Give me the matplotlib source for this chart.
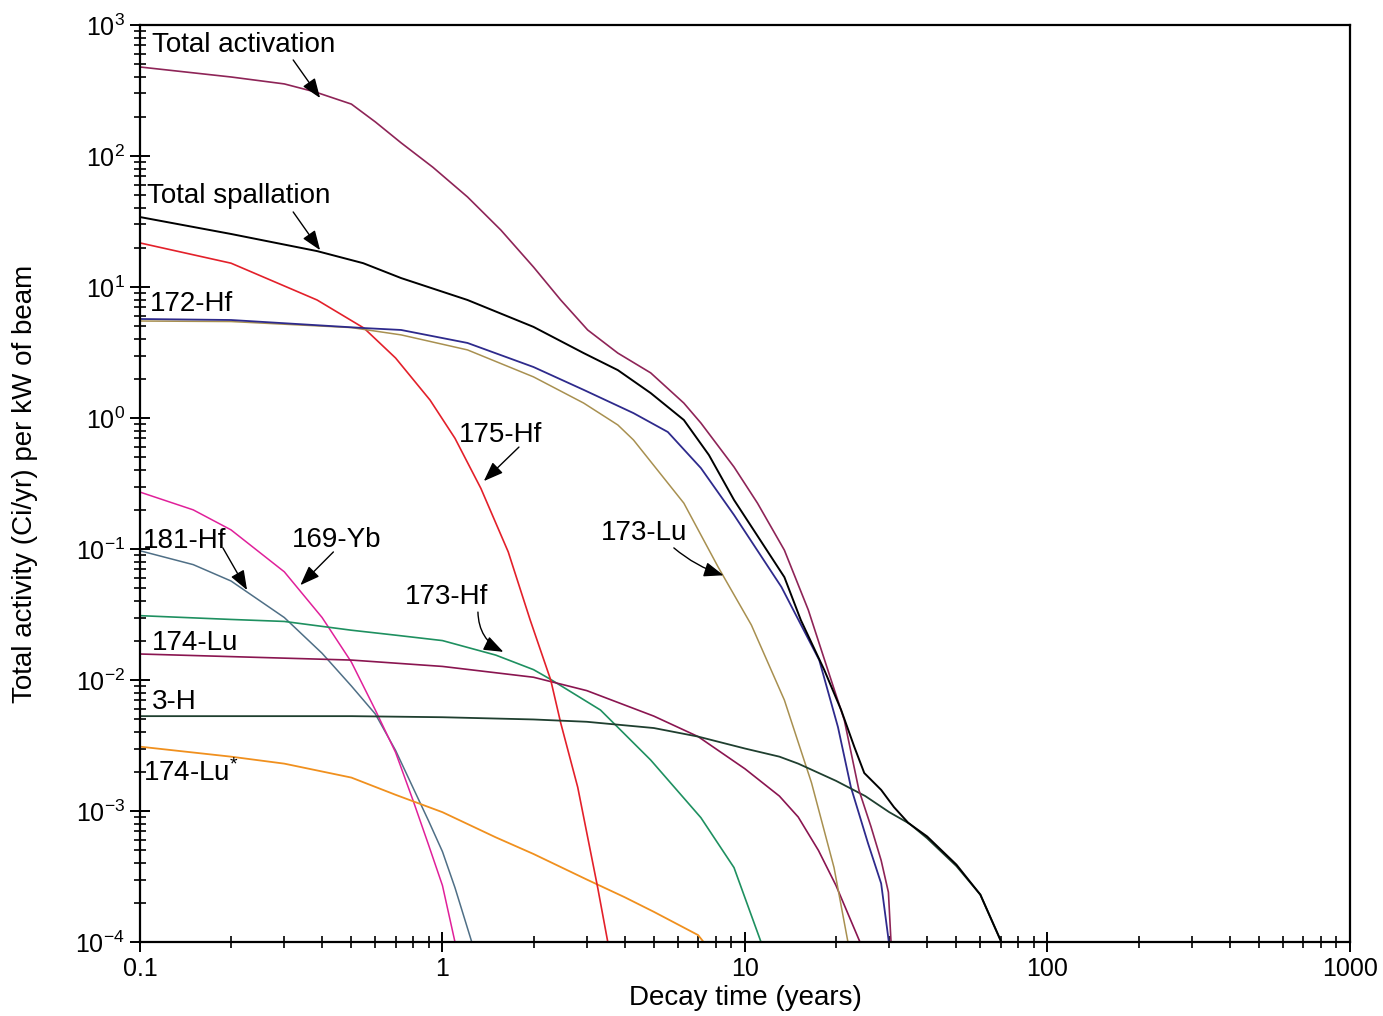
import matplotlib
matplotlib.use('Agg')
import matplotlib.pyplot as plt
from matplotlib.ticker import FixedLocator, FuncFormatter, LogLocator, NullFormatter

plt.rcParams['font.family'] = ['Liberation Sans', 'DejaVu Sans']
plt.rcParams['mathtext.fontset'] = 'custom'
plt.rcParams['mathtext.rm'] = 'Liberation Sans'
plt.rcParams['mathtext.it'] = 'Liberation Sans:italic'

# Activity (Ci/yr per kW of beam) against decay time (years)
total_activation_t = [0.1, 0.2, 0.3, 0.38, 0.5, 0.6, 0.73, 0.93, 1.21, 1.56, 2.0, 2.46, 3.02, 3.8, 4.88,
                      6.28, 7.15, 9.2, 11.0, 13.5, 16.2, 18.8, 21.3, 23.8, 26.1, 28.2, 29.8, 30.4]
total_activation = [478, 401, 355, 308, 249, 182, 126, 82, 48.7, 27.2, 14.2, 7.96, 4.7, 3.13, 2.21,
                    1.30, 0.916, 0.423, 0.224, 0.098, 0.0342, 0.0119, 0.00495, 0.00145, 0.00076,
                    0.00042, 0.00024, 0.0001]

total_spallation_t = [0.1, 0.2, 0.385, 0.547, 0.73, 1.21, 2.0, 2.93, 3.8, 4.88, 6.28, 7.6, 9.2, 11.0,
                      13.5, 15.3, 18.3, 20.8, 23.0, 24.8, 28.2, 31.1, 34.7, 40, 50, 60, 70.4]
total_spallation = [34.2, 25.4, 18.8, 15.2, 11.7, 7.96, 4.96, 3.13, 2.32, 1.55, 0.966, 0.522, 0.237,
                    0.126, 0.061, 0.0287, 0.0119, 0.0059, 0.00308, 0.00195, 0.00145, 0.00107, 0.00081,
                    0.00064, 0.00039, 0.00023, 0.0001]

hf172_t = [0.1, 0.2, 0.55, 0.73, 1.21, 2.0, 2.93, 4.28, 5.56, 7.15, 9.2, 13.2, 17.6, 20.3, 22.4, 25.5,
           28.2, 29.9]
hf172 = [5.7, 5.6, 4.86, 4.7, 3.74, 2.45, 1.64, 1.09, 0.782, 0.415, 0.182, 0.0513, 0.0142, 0.00437,
         0.00152, 0.00057, 0.00028, 0.0001]

lu173_t = [0.1, 0.2, 0.5, 0.73, 1.21, 2.0, 2.93, 3.8, 4.28, 6.28, 8.15, 10.5, 13.5, 16.6, 19.7, 21.9]
lu173 = [5.5, 5.45, 4.9, 4.31, 3.31, 2.06, 1.30, 0.885, 0.68, 0.224, 0.073, 0.0263, 0.00703, 0.00164,
         0.00037, 0.0001]

hf175_t = [0.1, 0.2, 0.385, 0.55, 0.7, 0.91, 1.1, 1.34, 1.65, 1.95, 2.28, 2.46, 2.8, 3.26, 3.52]
hf175 = [21.7, 15.2, 7.96, 4.86, 2.87, 1.37, 0.70, 0.29, 0.095, 0.0287, 0.01, 0.0047, 0.00152, 0.00026,
         0.0001]

hf181_t = [0.1, 0.15, 0.2, 0.3, 0.4, 0.5, 0.6, 0.7, 0.8, 0.9, 1.0, 1.1, 1.25]
hf181 = [0.097, 0.076, 0.057, 0.030, 0.016, 0.009, 0.0055, 0.0029, 0.0015, 0.00084, 0.00049, 0.00026, 0.0001]

yb169_t = [0.1, 0.15, 0.2, 0.3, 0.4, 0.5, 0.6, 0.7, 0.8, 0.9, 1.0, 1.1]
yb169 = [0.272, 0.199, 0.14, 0.067, 0.030, 0.0137, 0.0059, 0.0028, 0.0012, 0.00055, 0.00027, 0.0001]

hf173_t = [0.1, 0.2, 0.3, 0.5, 0.7, 1, 1.5, 2, 2.28, 3.33, 4.88, 7.15, 9.2, 11.3]
hf173 = [0.031, 0.029, 0.028, 0.024, 0.022, 0.020, 0.0155, 0.012, 0.0101, 0.0059, 0.00245, 0.00089,
         0.00037, 0.0001]

lu174_t = [0.1, 0.5, 1, 2, 3, 5, 7, 10, 13, 15, 17.5, 20, 24]
lu174 = [0.0158, 0.0142, 0.0127, 0.0105, 0.0083, 0.0053, 0.0037, 0.0021, 0.0013, 0.0009, 0.0005, 0.00027, 0.0001]

h3_t = [0.1, 0.5, 1, 2, 3, 5, 7, 10, 13, 15, 20, 25, 30, 35, 40, 50, 60, 70.4]
h3 = [0.0053, 0.0053, 0.0052, 0.0050, 0.0048, 0.0043, 0.0037, 0.0030, 0.0026, 0.0023, 0.0017, 0.0013,
      0.00098, 0.00080, 0.00062, 0.00038, 0.00023, 0.0001]

lu174m_t = [0.1, 0.2, 0.3, 0.5, 0.7, 1, 1.5, 2, 3, 4, 5, 7, 7.3]
lu174m = [0.0031, 0.0026, 0.0023, 0.0018, 0.00133, 0.00098, 0.00063, 0.00047, 0.0003, 0.00022, 0.00017,
          0.000113, 0.0001]

curves = [
    (hf181_t, hf181, '#4f6f86', 1.1),
    (yb169_t, yb169, '#e0209a', 1.1),
    (lu174m_t, lu174m, '#f0901e', 1.3),
    (hf173_t, hf173, '#1e9060', 1.2),
    (lu174_t, lu174, '#8a1550', 1.2),
    (hf175_t, hf175, '#e3202a', 1.2),
    (lu173_t, lu173, '#a89050', 1.1),
    (hf172_t, hf172, '#2e2a8c', 1.3),
    (h3_t, h3, '#1f3f2f', 1.3),
    (total_activation_t, total_activation, '#8e2457', 1.2),
    (total_spallation_t, total_spallation, 'black', 1.4),
]

fig = plt.figure(figsize=(13.83, 10.16), dpi=100)
ax = fig.add_axes([0.1012, 0.0728, 0.8749, 0.9026])

for t, a, color, lw in curves:
    ax.plot(t, a, color=color, lw=lw)

ax.set_xscale('log')
ax.set_yscale('log')
ax.set_xlim(0.1, 1000)
ax.set_ylim(1e-4, 1e3)

ax.xaxis.set_major_locator(FixedLocator([0.1, 1, 10, 100, 1000]))
ax.xaxis.set_major_formatter(FuncFormatter(lambda v, pos: '%g' % v))
ax.xaxis.set_minor_locator(LogLocator(base=10, subs=range(2, 10), numticks=20))
ax.xaxis.set_minor_formatter(NullFormatter())
ax.yaxis.set_major_locator(LogLocator(base=10, numticks=20))
ax.yaxis.set_minor_locator(LogLocator(base=10, subs=range(2, 10), numticks=20))
ax.yaxis.set_minor_formatter(NullFormatter())

for side in ['left', 'bottom', 'top', 'right']:
    ax.spines[side].set_linewidth(1.6)
ax.tick_params(which='major', direction='inout', length=14, width=1.4, labelsize=18, pad=4,
               top=False, right=False)
ax.tick_params(which='minor', direction='inout', length=8, width=1.2, top=False, right=False)

ax.set_xlabel('Decay time (years)', fontsize=20, labelpad=3)
ax.set_ylabel('Total activity (Ci/yr) per kW of beam', fontsize=20, labelpad=27)

# curve labels
label_kw = dict(fontsize=20, va='center', ha='left')
ax.text(0.1096, 703, 'Total activation', **label_kw)
ax.text(0.1055, 49.5, 'Total spallation', **label_kw)
ax.text(0.108, 7.4, '172-Hf', **label_kw)
ax.text(1.13, 0.74, '175-Hf', **label_kw)
ax.text(3.33, 0.132, '173-Lu', **label_kw)
ax.text(0.1023, 0.115, '181-Hf', **label_kw)
ax.text(0.319, 0.118, '169-Yb', **label_kw)
ax.text(0.753, 0.043, '173-Hf', **label_kw)
ax.text(0.1096, 0.0191, '174-Lu', **label_kw)
ax.text(0.1096, 0.0068, '3-H', **label_kw)
ax.text(0.1023, 0.00195, '174-Lu$^{*}$', **label_kw)

# pointer arrows (tail -> head on the curve)
arrows = [
    ((0.321, 541), (0.394, 277), 'arc3,rad=0'),
    ((0.321, 37.4), (0.394, 19.1), 'arc3,rad=0'),
    ((1.79, 0.60), (1.37, 0.33), 'arc3,rad=0'),
    ((5.82, 0.102), (8.5, 0.063), 'arc3,rad=0.1'),
    ((0.188, 0.102), (0.226, 0.0486), 'arc3,rad=0'),
    ((0.436, 0.095), (0.339, 0.053), 'arc3,rad=0'),
    ((1.31, 0.033), (1.59, 0.0164), 'arc3,rad=0.3'),
]
for tail, head, conn in arrows:
    ax.annotate('', xy=head, xytext=tail,
                arrowprops=dict(arrowstyle='-|>,head_length=0.8,head_width=0.3', color='black',
                                lw=1.0, mutation_scale=15, shrinkA=0, shrinkB=0,
                                connectionstyle=conn))

fig.savefig('out.png', dpi=100)
